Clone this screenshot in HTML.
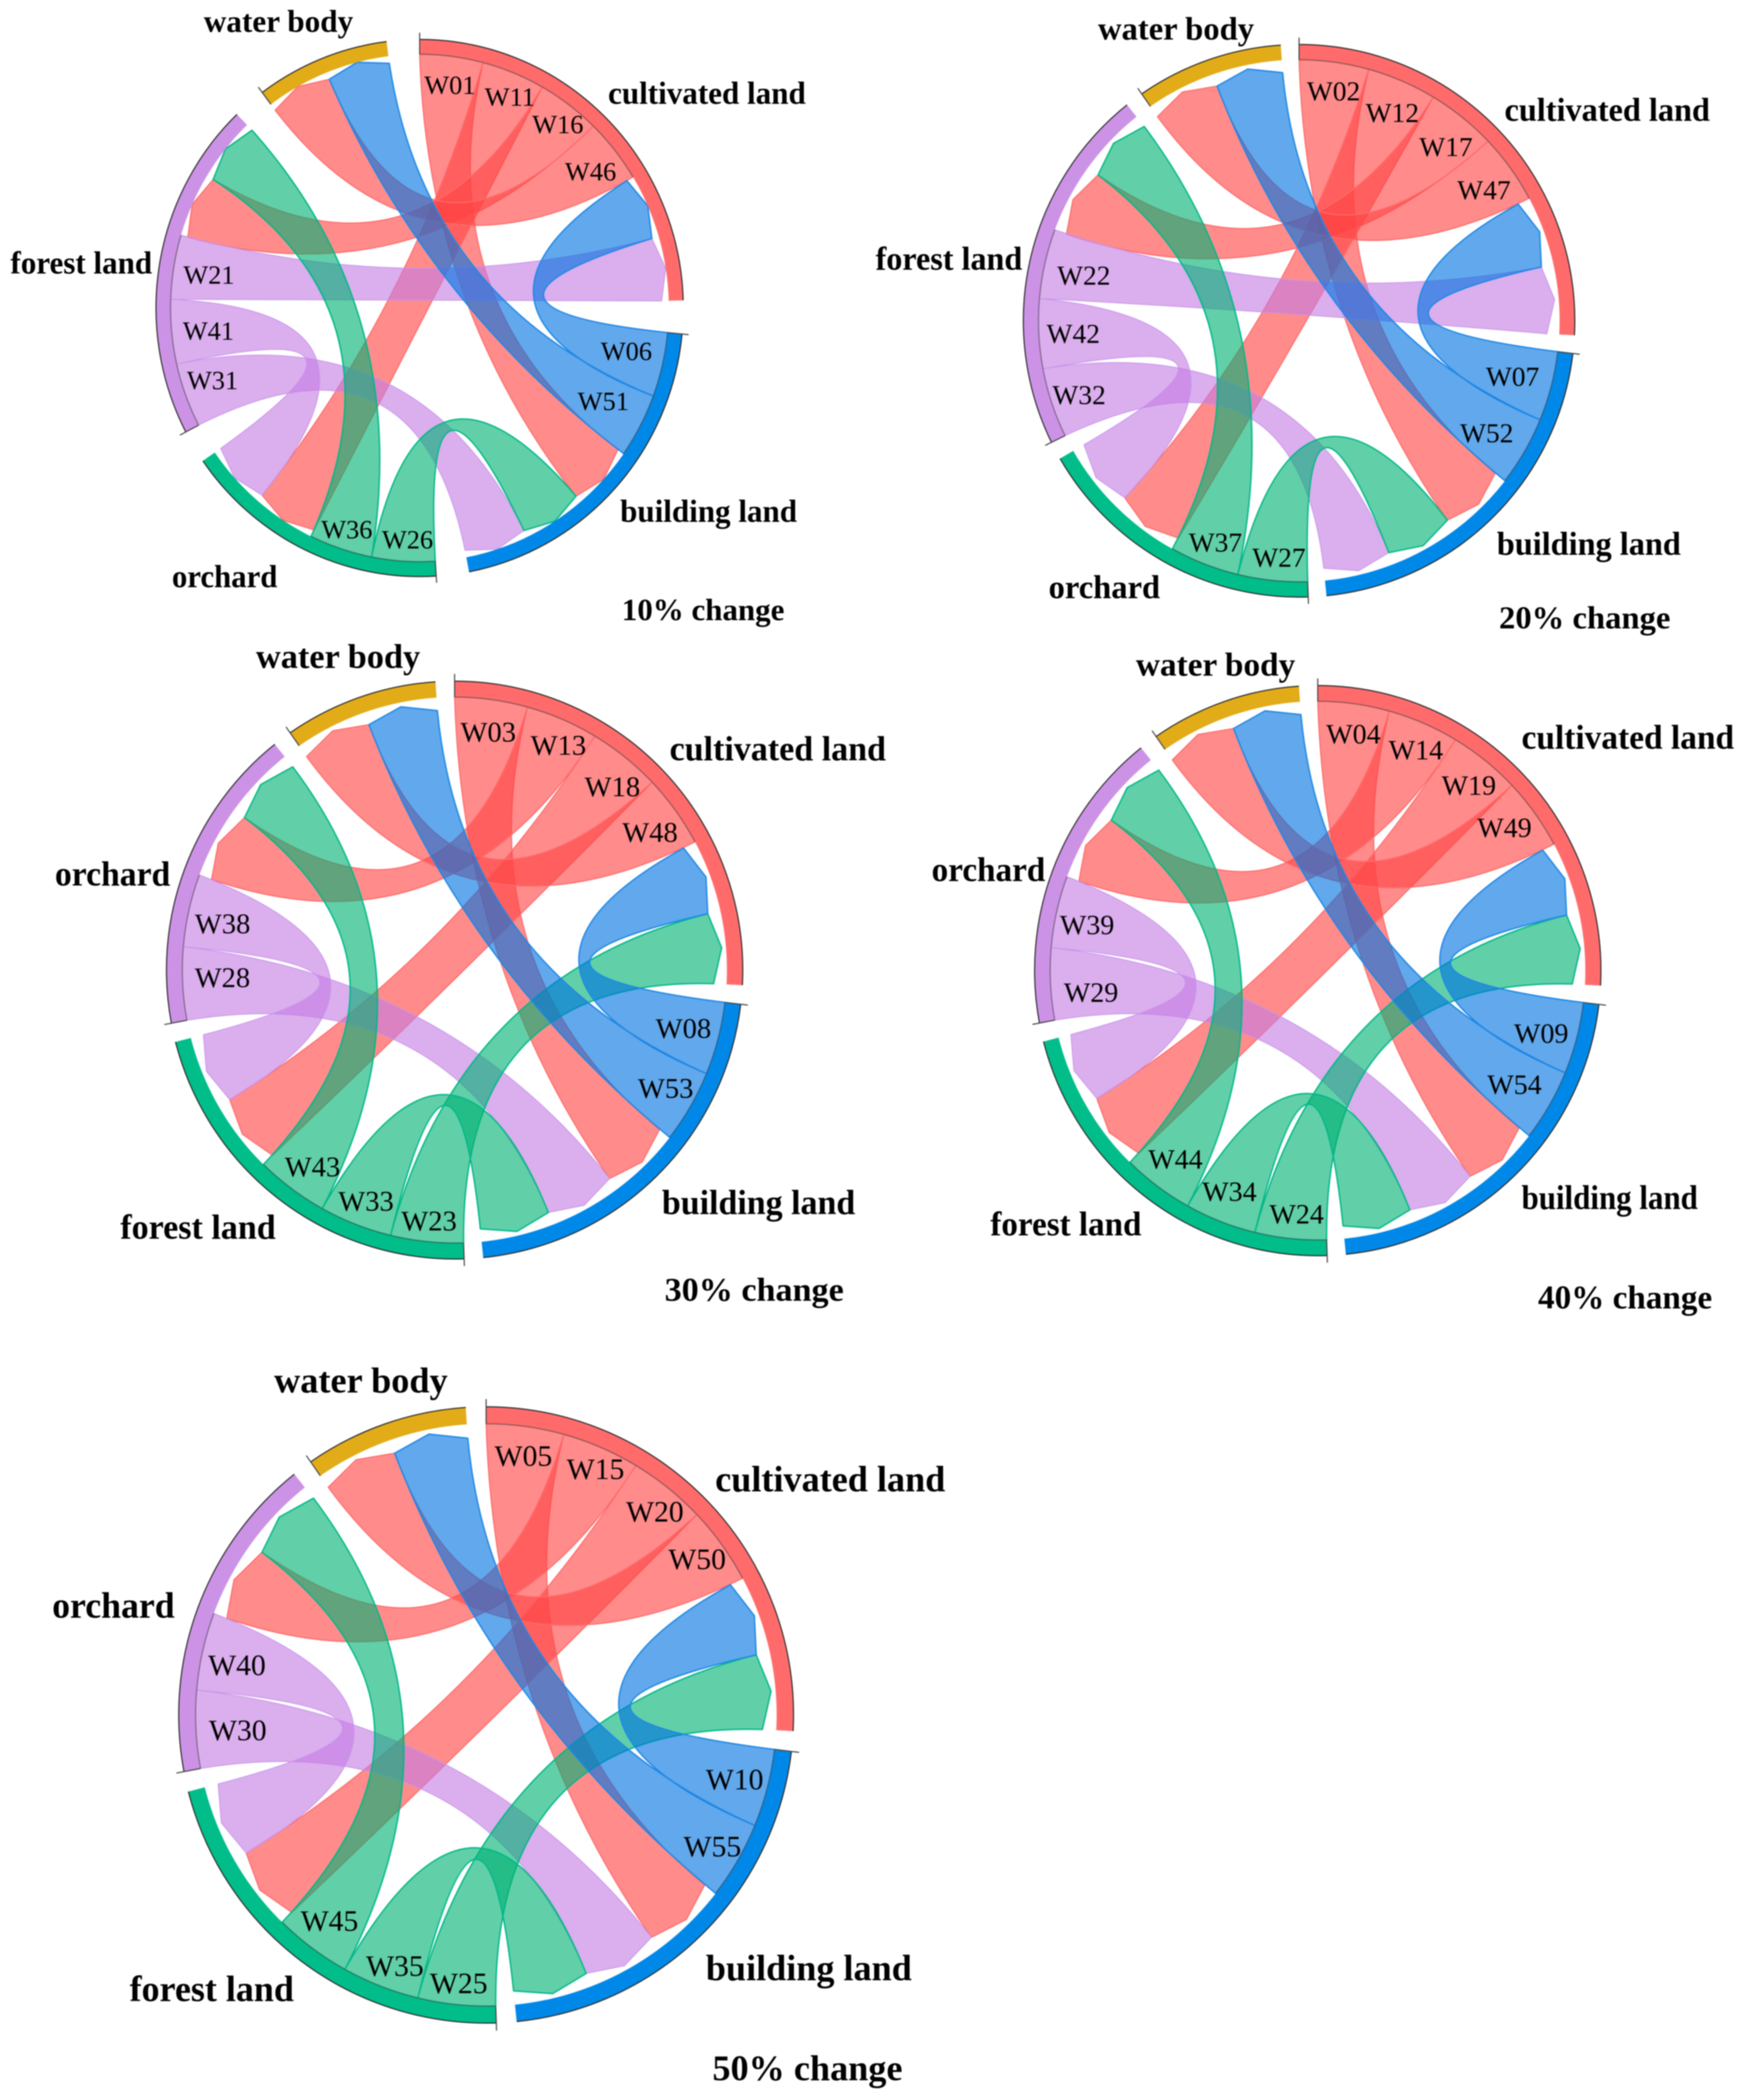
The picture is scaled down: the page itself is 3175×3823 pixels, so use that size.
<!DOCTYPE html>
<html lang="en">
<head>
<meta charset="utf-8">
<title>Chord diagrams of land use change</title>
<style>
html,body{margin:0;padding:0;background:#fff;}
svg{display:block;filter:blur(1px);}
text{font-family:"Liberation Serif",serif;fill:#000;}
.sector-label,.change-label{font-weight:bold;}
</style>
</head>
<body>
<svg id="figure" xmlns="http://www.w3.org/2000/svg" width="3175" height="3823" viewBox="0 0 3175 3823">
  <rect width="3175" height="3823" fill="#fff"/>
  <g id="panel-10"></g>
  <g id="panel-20"></g>
  <g id="panel-30"></g>
  <g id="panel-40"></g>
  <g id="panel-50"></g>

  <g>
    <text class="sector-label" x="371" y="58" font-size="57" textLength="272" lengthAdjust="spacingAndGlyphs">water body</text>
    <text class="sector-label" x="1107" y="189" font-size="58" textLength="360" lengthAdjust="spacingAndGlyphs">cultivated land</text>
    <text class="sector-label" x="19" y="498" font-size="58" textLength="258" lengthAdjust="spacingAndGlyphs">forest land</text>
    <text class="sector-label" x="1129" y="950" font-size="58" textLength="322" lengthAdjust="spacingAndGlyphs">building land</text>
    <text class="sector-label" x="313" y="1069" font-size="58" textLength="192" lengthAdjust="spacingAndGlyphs">orchard</text>
    <text class="change-label" x="1132" y="1129" font-size="56" textLength="296" lengthAdjust="spacingAndGlyphs">10% change</text>
  </g>
  <g>
    <text class="sector-label" x="1999" y="72" font-size="59" textLength="284" lengthAdjust="spacingAndGlyphs">water body</text>
    <text class="sector-label" x="2739" y="220" font-size="60" textLength="374" lengthAdjust="spacingAndGlyphs">cultivated land</text>
    <text class="sector-label" x="1594" y="491" font-size="60" textLength="267" lengthAdjust="spacingAndGlyphs">forest land</text>
    <text class="sector-label" x="2725" y="1010" font-size="60" textLength="335" lengthAdjust="spacingAndGlyphs">building land</text>
    <text class="sector-label" x="1909" y="1089" font-size="60" textLength="203" lengthAdjust="spacingAndGlyphs">orchard</text>
    <text class="change-label" x="2729" y="1144" font-size="58" textLength="312" lengthAdjust="spacingAndGlyphs">20% change</text>
  </g>
  <g>
    <text class="sector-label" x="466" y="1216" font-size="62" textLength="299" lengthAdjust="spacingAndGlyphs">water body</text>
    <text class="sector-label" x="1219" y="1384" font-size="63" textLength="394" lengthAdjust="spacingAndGlyphs">cultivated land</text>
    <text class="sector-label" x="100" y="1612" font-size="63" textLength="210" lengthAdjust="spacingAndGlyphs">orchard</text>
    <text class="sector-label" x="219" y="2255" font-size="63" textLength="283" lengthAdjust="spacingAndGlyphs">forest land</text>
    <text class="sector-label" x="1205" y="2210" font-size="63" textLength="352" lengthAdjust="spacingAndGlyphs">building land</text>
    <text class="change-label" x="1210" y="2368" font-size="60" textLength="326" lengthAdjust="spacingAndGlyphs">30% change</text>
  </g>
  <g>
    <text class="sector-label" x="2068" y="1230" font-size="60" textLength="290" lengthAdjust="spacingAndGlyphs">water body</text>
    <text class="sector-label" x="2770" y="1363" font-size="62" textLength="387" lengthAdjust="spacingAndGlyphs">cultivated land</text>
    <text class="sector-label" x="1696" y="1604" font-size="62" textLength="207" lengthAdjust="spacingAndGlyphs">orchard</text>
    <text class="sector-label" x="1803" y="2249" font-size="62" textLength="275" lengthAdjust="spacingAndGlyphs">forest land</text>
    <text class="sector-label" x="2770" y="2201" font-size="62" textLength="321" lengthAdjust="spacingAndGlyphs">building land</text>
    <text class="change-label" x="2800" y="2382" font-size="60" textLength="317" lengthAdjust="spacingAndGlyphs">40% change</text>
  </g>
  <g>
    <text class="sector-label" x="499" y="2535" font-size="66" textLength="316" lengthAdjust="spacingAndGlyphs">water body</text>
    <text class="sector-label" x="1302" y="2715" font-size="67" textLength="419" lengthAdjust="spacingAndGlyphs">cultivated land</text>
    <text class="sector-label" x="95" y="2945" font-size="67" textLength="223" lengthAdjust="spacingAndGlyphs">orchard</text>
    <text class="sector-label" x="236" y="3643" font-size="67" textLength="299" lengthAdjust="spacingAndGlyphs">forest land</text>
    <text class="sector-label" x="1285" y="3605" font-size="67" textLength="375" lengthAdjust="spacingAndGlyphs">building land</text>
    <text class="change-label" x="1297" y="3787" font-size="66" textLength="346" lengthAdjust="spacingAndGlyphs">50% change</text>
  </g>
</svg>

<script>
// Sector indices: 0 cultivated land, 1 building land, 2 green sector, 3 purple sector, 4 water body.
const flowSourcesA = [0, 0, 0, 0, 1, 1, 2, 2, 3, 3, 3];
const flowTargetsA = [1, 2, 3, 4, 0, 4, 1, 3, 1, 2, 0];
const flowSourcesB = [0, 0, 0, 0, 1, 1, 3, 3, 2, 2, 2];
const flowTargetsB = [1, 3, 2, 4, 0, 4, 1, 2, 0, 1, 3];

const flowLabels10 = ['W01', 'W11', 'W16', 'W46', 'W06', 'W51', 'W26', 'W36', 'W31', 'W41', 'W21'];
const flowLabels20 = ['W02', 'W12', 'W17', 'W47', 'W07', 'W52', 'W27', 'W37', 'W32', 'W42', 'W22'];
const flowLabels30 = ['W03', 'W13', 'W18', 'W48', 'W08', 'W53', 'W28', 'W38', 'W23', 'W33', 'W43'];
const flowLabels40 = ['W04', 'W14', 'W19', 'W49', 'W09', 'W54', 'W29', 'W39', 'W24', 'W34', 'W44'];
const flowLabels50 = ['W05', 'W15', 'W20', 'W50', 'W10', 'W55', 'W30', 'W40', 'W25', 'W35', 'W45'];

const flowValues10 = [1, 1, 1, 1, 1, 1, 1, 1, 1, 1, 1];
const flowValues20 = [1, 1, 1, 1, 1, 1, 1, 1, 1, 1, 1];
const flowValues30 = [1, 1, 1, 1, 1, 1, 1, 1, 1, 1, 1];
const flowValues40 = [1, 1, 1, 1, 1, 1, 1, 1, 1, 1, 1];
const flowValues50 = [1, 1, 1, 1, 1, 1, 1, 1, 1, 1, 1];

const SVG_NS = 'http://www.w3.org/2000/svg';
const TRACK_FILL = ['#ff6b6b', '#0088e8', '#00bd8a', '#cc92e6', '#e2ac18'];
const CHORD_FILL = ['rgb(255,68,68)', 'rgb(0,115,225)', 'rgb(0,177,115)', 'rgb(197,124,227)', 'rgb(226,172,24)'];
const CHORD_EDGE = ['#ff6a6a', '#1e88e6', '#00b888', '#c795ea', '#e2ac18'];
const EDGE_WIDTH = [2, 2.5, 2.5, 1.5, 2];
const DRAW_RANK = [0, 3, 2, 1, 4];
const NUDGE_SCALE = 2.44;

function drawPanel(id, labels, sources, targets, values, g) {
  const root = document.getElementById(id);
  const rad = d => d * Math.PI / 180;
  const px = (deg, r) => g.cx + g.rx * r * Math.sin(rad(deg));
  const py = (deg, r) => g.cy - g.ry * r * Math.cos(rad(deg));
  const pt = (deg, r) => px(deg, r).toFixed(1) + ' ' + py(deg, r).toFixed(1);
  const arcTo = (deg0, deg1, r) => {
    const sweep = deg1 >= deg0 ? 1 : 0;
    const large = Math.abs(deg1 - deg0) > 180 ? 1 : 0;
    return 'A ' + (g.rx * r).toFixed(1) + ' ' + (g.ry * r).toFixed(1) + ' 0 ' + large + ' ' + sweep + ' ' + pt(deg1, r);
  };
  const sectorCount = 5;
  const totalValue = values.reduce((a, b) => a + b, 0) * 2;
  const unit = (360 - g.gap * sectorCount) / totalValue;

  // Lay out arcs: within each sector, outgoing arcs first, then incoming arcs.
  const srcArc = [], tgtArc = [], sectorArc = [];
  let cursor = 0;
  for (let s = 0; s < sectorCount; s++) {
    const start = cursor;
    values.forEach((v, i) => {
      if (sources[i] === s) { srcArc[i] = [cursor, cursor + v * unit]; cursor += v * unit; }
    });
    values.forEach((v, i) => {
      if (targets[i] === s) { tgtArc[i] = [cursor, cursor + v * unit]; cursor += v * unit; }
    });
    sectorArc[s] = [start, cursor];
    cursor += g.gap;
  }

  const control = (a, b) => {
    let d = ((b - a) % 360 + 360) % 360;
    if (d > 180) d -= 360;
    return pt(a + d / 2, 0.03);
  };

  // Chords
  const order = values.map((v, i) => i).sort((p, q) => (DRAW_RANK[sources[p]] - DRAW_RANK[sources[q]]) || (p - q));
  order.forEach(i => {
    const [a1, a2] = srcArc[i];
    const [b1, b2] = tgtArc[i];
    const bm = (b1 + b2) / 2;
    const path = document.createElementNS(SVG_NS, 'path');
    const d = 'M ' + pt(a1, g.rs) + ' ' + arcTo(a1, a2, g.rs) +
      ' Q ' + control(a2, b1) + ' ' + pt(b1, g.rt) +
      ' L ' + pt(bm, g.rm) + ' L ' + pt(b2, g.rt) +
      ' Q ' + control(b2, a1) + ' ' + pt(a1, g.rs) + ' Z';
    path.setAttribute('d', d);
    path.setAttribute('fill', CHORD_FILL[sources[i]]);
    path.setAttribute('fill-opacity', '0.62');
    path.setAttribute('stroke', CHORD_EDGE[sources[i]]);
    path.setAttribute('stroke-width', EDGE_WIDTH[sources[i]]);
    path.setAttribute('stroke-linejoin', 'round');
    
    
    root.appendChild(path);
  });

  // Sector tracks
  sectorArc.forEach((arc, s) => {
    const track = document.createElementNS(SVG_NS, 'path');
    track.setAttribute('d', 'M ' + pt(arc[0], 1) + ' ' + arcTo(arc[0], arc[1], 1) +
      ' L ' + pt(arc[1], g.rs) + ' ' + arcTo(arc[1], arc[0], g.rs) + ' Z');
    track.setAttribute('fill', TRACK_FILL[s]);
    
    
    root.appendChild(track);

    const edge = document.createElementNS(SVG_NS, 'path');
    edge.setAttribute('d', 'M ' + pt(arc[0], 1) + ' ' + arcTo(arc[0], arc[1], 1));
    edge.setAttribute('fill', 'none');
    edge.setAttribute('stroke', '#2a2a2a');
    edge.setAttribute('stroke-width', '2');
    
    
    root.appendChild(edge);

    const tick = document.createElementNS(SVG_NS, 'path');
    tick.setAttribute('d', 'M ' + pt(arc[0], g.rs) + ' L ' + pt(arc[0], 1.025));
    tick.setAttribute('fill', 'none');
    tick.setAttribute('stroke', '#444');
    tick.setAttribute('stroke-width', '2');
    
    
    root.appendChild(tick);
  });

  // Source arc inner lines and flow labels
  values.forEach((v, i) => {
    const [a1, a2] = srcArc[i];
    const inner = document.createElementNS(SVG_NS, 'path');
    inner.setAttribute('d', 'M ' + pt(a1, g.rs) + ' ' + arcTo(a1, a2, g.rs));
    inner.setAttribute('fill', 'none');
    inner.setAttribute('stroke', 'rgba(70,70,70,0.6)');
    inner.setAttribute('stroke-width', '2');
    
    
    root.appendChild(inner);

    const mid = (a1 + a2) / 2;
    const r = g.labelR + ((mid > 165 && mid < 215) ? 0.04 : 0);
    const shift = g.nudge[labels[i]] || [0, 0];
    const label = document.createElementNS(SVG_NS, 'text');
    label.setAttribute('x', (px(mid, r) + shift[0] * NUDGE_SCALE).toFixed(1));
    label.setAttribute('y', (py(mid, r) + shift[1] * NUDGE_SCALE).toFixed(1));
    label.setAttribute('font-size', g.labelSize);
    label.setAttribute('text-anchor', 'middle');
    label.setAttribute('dominant-baseline', 'central');
    
    
    label.textContent = labels[i];
    root.appendChild(label);
  });
}

drawPanel('panel-10', flowLabels10, flowSourcesA, flowTargetsA, flowValues10,
  {cx: 764, cy: 560.7, rx: 480, ry: 489, gap: 7.2, rs: 0.945, rt: 0.918, rm: 0.945, labelR: 0.815, labelSize: 48,
   nudge: {W01: [2, -4], W11: [7, -6], W16: [7, -6], W46: [2, 0], W21: [1, 2], W41: [2, 2], W31: [-4, -2], W06: [-2, -4], W51: [-5, -6], W36: [-1, 3], W26: [2, 2]}});
drawPanel('panel-20', flowLabels20, flowSourcesA, flowTargetsA, flowValues20,
  {cx: 2365, cy: 584, rx: 502, ry: 503, gap: 3.8, rs: 0.945, rt: 0.9, rm: 0.93, labelR: 0.82, labelSize: 50,
   nudge: {W02: [3, -4], W12: [3, 0], W17: [4, 2], W47: [1, 1], W22: [4, 3], W42: [0, 1], W32: [-4, 2], W07: [-4, -1], W52: [-6, -1], W37: [2, 0], W27: [3, 0]}});
drawPanel('panel-30', flowLabels30, flowSourcesB, flowTargetsB, flowValues30,
  {cx: 827.6, cy: 1766, rx: 524.6, ry: 526, gap: 3.8, rs: 0.945, rt: 0.9, rm: 0.93, labelR: 0.83, labelSize: 52,
   nudge: {W03: [1, 0], W13: [7, -3], W18: [6, 3], W48: [1, 2], W38: [1, 5], W28: [5, -3], W08: [-2, -1], W53: [3, -1], W43: [1, 4], W33: [2, -2], W23: [0, 1]}});
drawPanel('panel-40', flowLabels40, flowSourcesB, flowTargetsB, flowValues40,
  {cx: 2399, cy: 1767, rx: 515.5, ry: 519, gap: 3.8, rs: 0.945, rt: 0.9, rm: 0.93, labelR: 0.83, labelSize: 51,
   nudge: {W04: [3, -1], W14: [4, -2], W19: [3, 0], W49: [-3, -3], W39: [-1, 5], W29: [6, 8], W09: [-3, 3], W54: [-5, -3], W44: [-1, 0], W34: [1, -7], W24: [3, -2]}});
drawPanel('panel-50', flowLabels50, flowSourcesB, flowTargetsB, flowValues50,
  {cx: 885, cy: 3122, rx: 559.7, ry: 561, gap: 3.8, rs: 0.945, rt: 0.9, rm: 0.93, labelR: 0.835, labelSize: 54,
   nudge: {W05: [2, -3], W15: [6, -7], W20: [6, -2], W50: [2, -4], W40: [1, 5], W30: [6, 2], W10: [0, 0], W55: [3, 2], W45: [-2, 0], W35: [5, 0], W25: [0, 0]}});
</script>
</body>
</html>
